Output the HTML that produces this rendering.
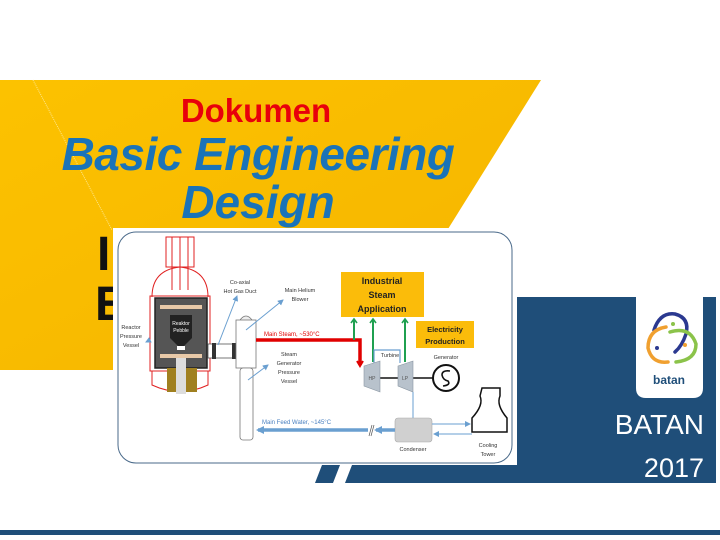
<!DOCTYPE html>
<html><head><meta charset="utf-8"><style>
body{margin:0;width:720px;height:540px;overflow:hidden;background:#fff;font-family:"Liberation Sans",sans-serif;}
</style></head><body>
<svg width="720" height="540" viewBox="0 0 720 540" xmlns="http://www.w3.org/2000/svg" style="position:absolute;left:0;top:0">
<defs>
<linearGradient id="yg" x1="0" y1="0" x2="1" y2="1">
<stop offset="0" stop-color="#fcc200"/><stop offset="1" stop-color="#f5b400"/></linearGradient>
<marker id="ab" markerUnits="userSpaceOnUse" markerWidth="6" markerHeight="6" refX="5" refY="3" orient="auto"><path d="M0,0L6,3L0,6z" fill="#6a9fd0"/></marker>
<marker id="abb" markerUnits="userSpaceOnUse" markerWidth="8" markerHeight="8" refX="6" refY="4" orient="auto"><path d="M0,0L8,4L0,8z" fill="#6a9fd0"/></marker>
<marker id="ag" markerUnits="userSpaceOnUse" markerWidth="8" markerHeight="8" refX="4" refY="4" orient="auto"><path d="M1,1L5,4L1,7" fill="none" stroke="#1fa050" stroke-width="1.6"/></marker>
<marker id="ar" markerUnits="userSpaceOnUse" markerWidth="8" markerHeight="8" refX="5" refY="4" orient="auto"><path d="M1,1L6,4L1,7" fill="none" stroke="#e00000" stroke-width="2"/></marker>
</defs>
<polygon points="0,80 541,80 360,370 0,370" fill="url(#yg)"/>
<line x1="33" y1="80" x2="112" y2="230" stroke="#fde68a" stroke-width="1" stroke-dasharray="1,1"/>
<rect x="517" y="297" width="199" height="186" fill="#1f4e79"/>
<polygon points="352,465 517,465 517,483 345,483" fill="#1f4e79"/>
<polygon points="322,465 340,465 333,483 315,483" fill="#1f4e79"/>
<path d="M636,297 H703 V388 Q703,398 693,398 H646 Q636,398 636,388 Z" fill="#fff"/>
<rect x="0" y="530" width="720" height="5" fill="#1f4e79"/>
<g fill="none" stroke-width="3.5" stroke-linecap="round">
<path d="M654,330 Q660,312 675,314 Q690,318 686,334 Q682,346 675,352" stroke="#2b3990"/>
<path d="M666,327 Q648,330 648,348 Q652,364 668,362" stroke="#f0a030"/>
<path d="M670,332 Q690,326 696,344 Q696,360 676,362" stroke="#8bc34a"/>
</g>
<circle cx="673" cy="324" r="2" fill="#8bc34a"/><circle cx="657" cy="348" r="2" fill="#2b3990"/><circle cx="685" cy="345" r="2" fill="#f0a030"/>
<text x="669" y="384" font-size="12" font-weight="bold" fill="#1f4e79" text-anchor="middle">batan</text>
<text x="704" y="434" font-size="28" fill="#fff" text-anchor="end">BATAN</text>
<text x="704" y="477" font-size="27" fill="#fff" text-anchor="end">2017</text>
<text x="256" y="122" font-size="33" font-weight="bold" fill="#e8000b" text-anchor="middle">Dokumen</text>
<text x="258" y="170" font-size="46" font-weight="bold" font-style="italic" fill="#1a73b8" text-anchor="middle" style="letter-spacing:-0.5px">Basic Engineering</text>
<text x="258" y="218" font-size="46" font-weight="bold" font-style="italic" fill="#1a73b8" text-anchor="middle">Design</text>
<text x="97" y="270" font-size="48" font-weight="bold" fill="#111">I</text>
<text x="95" y="320" font-size="48" font-weight="bold" fill="#111">E</text>
<rect x="113" y="228" width="404" height="237" fill="#fff"/>
<rect x="118" y="232" width="394" height="231" rx="18" fill="#fff" stroke="#4a6a8a" stroke-width="1"/>
<g stroke="#e02020" fill="none" stroke-width="1">
<rect x="166" y="237" width="28" height="30"/>
<line x1="172" y1="237" x2="172" y2="290"/><line x1="180" y1="237" x2="180" y2="290"/><line x1="188" y1="237" x2="188" y2="290"/>
<path d="M152,297 Q152,270 180,267 Q208,270 208,297"/>
<rect x="150" y="296" width="60" height="75"/>
<path d="M152,371 L152,385 Q180,398 208,385 L208,371"/>
</g>
<rect x="155" y="298" width="52" height="70" fill="#555" stroke="#222" stroke-width="1.5"/>
<rect x="160" y="305" width="42" height="4" fill="#e8c9a8"/>
<rect x="160" y="354" width="42" height="4" fill="#e8c9a8"/>
<path d="M170,315 H192 V338 L184,346 H178 L170,338 Z" fill="#222"/>
<rect x="177" y="346" width="8" height="4" fill="#fff"/>
<rect x="167" y="368" width="30" height="24" fill="#a08020"/>
<rect x="176" y="358" width="10" height="36" fill="#ddd"/>
<text x="181" y="325" font-size="5" fill="#fff" text-anchor="middle">Reaktor</text>
<text x="181" y="332" font-size="5" fill="#fff" text-anchor="middle">Pebble</text>
<g font-size="5.5" fill="#333" text-anchor="middle">
<text x="131" y="329">Reactor</text><text x="131" y="338">Pressure</text><text x="131" y="347">Vessel</text>
<text x="240" y="284">Co-axial</text><text x="240" y="293">Hot Gas Duct</text>
<text x="300" y="292">Main Helium</text><text x="300" y="301">Blower</text>
<text x="289" y="356">Steam</text><text x="289" y="365">Generator</text><text x="289" y="374">Pressure</text><text x="289" y="383">Vessel</text>
<text x="390" y="357">Turbine</text><text x="446" y="359">Generator</text>
<text x="413" y="451">Condenser</text><text x="488" y="447">Cooling</text><text x="488" y="456">Tower</text>
</g>
<line x1="150" y1="340" x2="146" y2="342" stroke="#6a9fd0" marker-end="url(#ab)"/>
<rect x="208" y="344" width="30" height="14" fill="#fff" stroke="#555" stroke-width="0.8"/>
<rect x="212" y="343" width="4" height="16" fill="#333"/><rect x="232" y="343" width="4" height="16" fill="#333"/>
<path d="M240,320 Q246,312 252,320" fill="#eee" stroke="#777" stroke-width="0.8"/>
<rect x="236" y="320" width="20" height="48" fill="#fff" stroke="#777" stroke-width="0.8"/>
<rect x="240" y="368" width="13" height="72" rx="3" fill="#fff" stroke="#777" stroke-width="0.8"/>
<g stroke="#6a9fd0" stroke-width="1" marker-end="url(#ab)">
<line x1="218" y1="345" x2="237" y2="296"/>
<line x1="246" y1="330" x2="283" y2="300"/>
<line x1="248" y1="380" x2="268" y2="365"/>
</g>
<polyline points="256,340 360,340 360,365" fill="none" stroke="#e00000" stroke-width="3.5" marker-end="url(#ar)"/>
<text x="264" y="336" font-size="6" fill="#e00000">Main Steam, ~530°C</text>
<rect x="341" y="272" width="83" height="45" fill="#fbbc0a"/>
<g font-size="9" font-weight="bold" fill="#222" text-anchor="middle">
<text x="382" y="284">Industrial</text><text x="382" y="298">Steam</text><text x="382" y="312">Application</text></g>
<rect x="416" y="321" width="58" height="27" fill="#fbbc0a"/>
<g font-size="7.5" font-weight="bold" fill="#222" text-anchor="middle">
<text x="445" y="332">Electricity</text><text x="445" y="344">Production</text></g>
<g stroke="#1fa050" stroke-width="2" marker-end="url(#ag)">
<line x1="354" y1="340" x2="354" y2="320"/><line x1="373" y1="362" x2="373" y2="320"/><line x1="405" y1="362" x2="405" y2="320"/></g>
<polyline points="374,363 374,350 400,350 400,363" fill="none" stroke="#6a9fd0" stroke-width="1.2"/>
<line x1="378" y1="378" x2="433" y2="378" stroke="#111" stroke-width="1.5"/>
<polygon points="364,366 380,361 380,392 364,386" fill="#b8c2cc" stroke="#8a96a2" stroke-width="0.6"/>
<polygon points="398,366 413,361 413,392 398,386" fill="#b8c2cc" stroke="#8a96a2" stroke-width="0.6"/>
<text x="372" y="380" font-size="5" fill="#555" text-anchor="middle">HP</text>
<text x="405" y="380" font-size="5" fill="#555" text-anchor="middle">LP</text>
<circle cx="446" cy="378" r="13" fill="#fff" stroke="#111" stroke-width="2"/>
<path d="M450,371 Q442,370 442,375 Q443,380 448,381 Q451,385 443,386" fill="none" stroke="#111" stroke-width="1.6"/>
<line x1="413" y1="392" x2="413" y2="418" stroke="#6a9fd0" stroke-width="1"/>
<rect x="395" y="418" width="37" height="24" rx="3" fill="#d0d0d0" stroke="#aaa" stroke-width="0.6"/>
<line x1="432" y1="424" x2="470" y2="424" stroke="#6a9fd0" stroke-width="1" marker-end="url(#ab)"/>
<line x1="472" y1="434" x2="434" y2="434" stroke="#6a9fd0" stroke-width="1" marker-end="url(#ab)"/>
<path d="M482,388 H500 V396 Q496,405 507,418 V432 H472 V418 Q484,405 480,396 Z" fill="#fff" stroke="#111" stroke-width="1.5"/>
<line x1="395" y1="430" x2="376" y2="430" stroke="#6a9fd0" stroke-width="3.5" marker-end="url(#abb)"/>
<line x1="368" y1="430" x2="258" y2="430" stroke="#6a9fd0" stroke-width="3.5" marker-end="url(#abb)"/>
<line x1="369" y1="436" x2="372" y2="425" stroke="#555" stroke-width="0.7"/><line x1="371" y1="436" x2="374" y2="425" stroke="#555" stroke-width="0.7"/>
<text x="262" y="424" font-size="6" fill="#4a80c0">Main Feed Water, ~145°C</text>
</svg>
</body></html>
